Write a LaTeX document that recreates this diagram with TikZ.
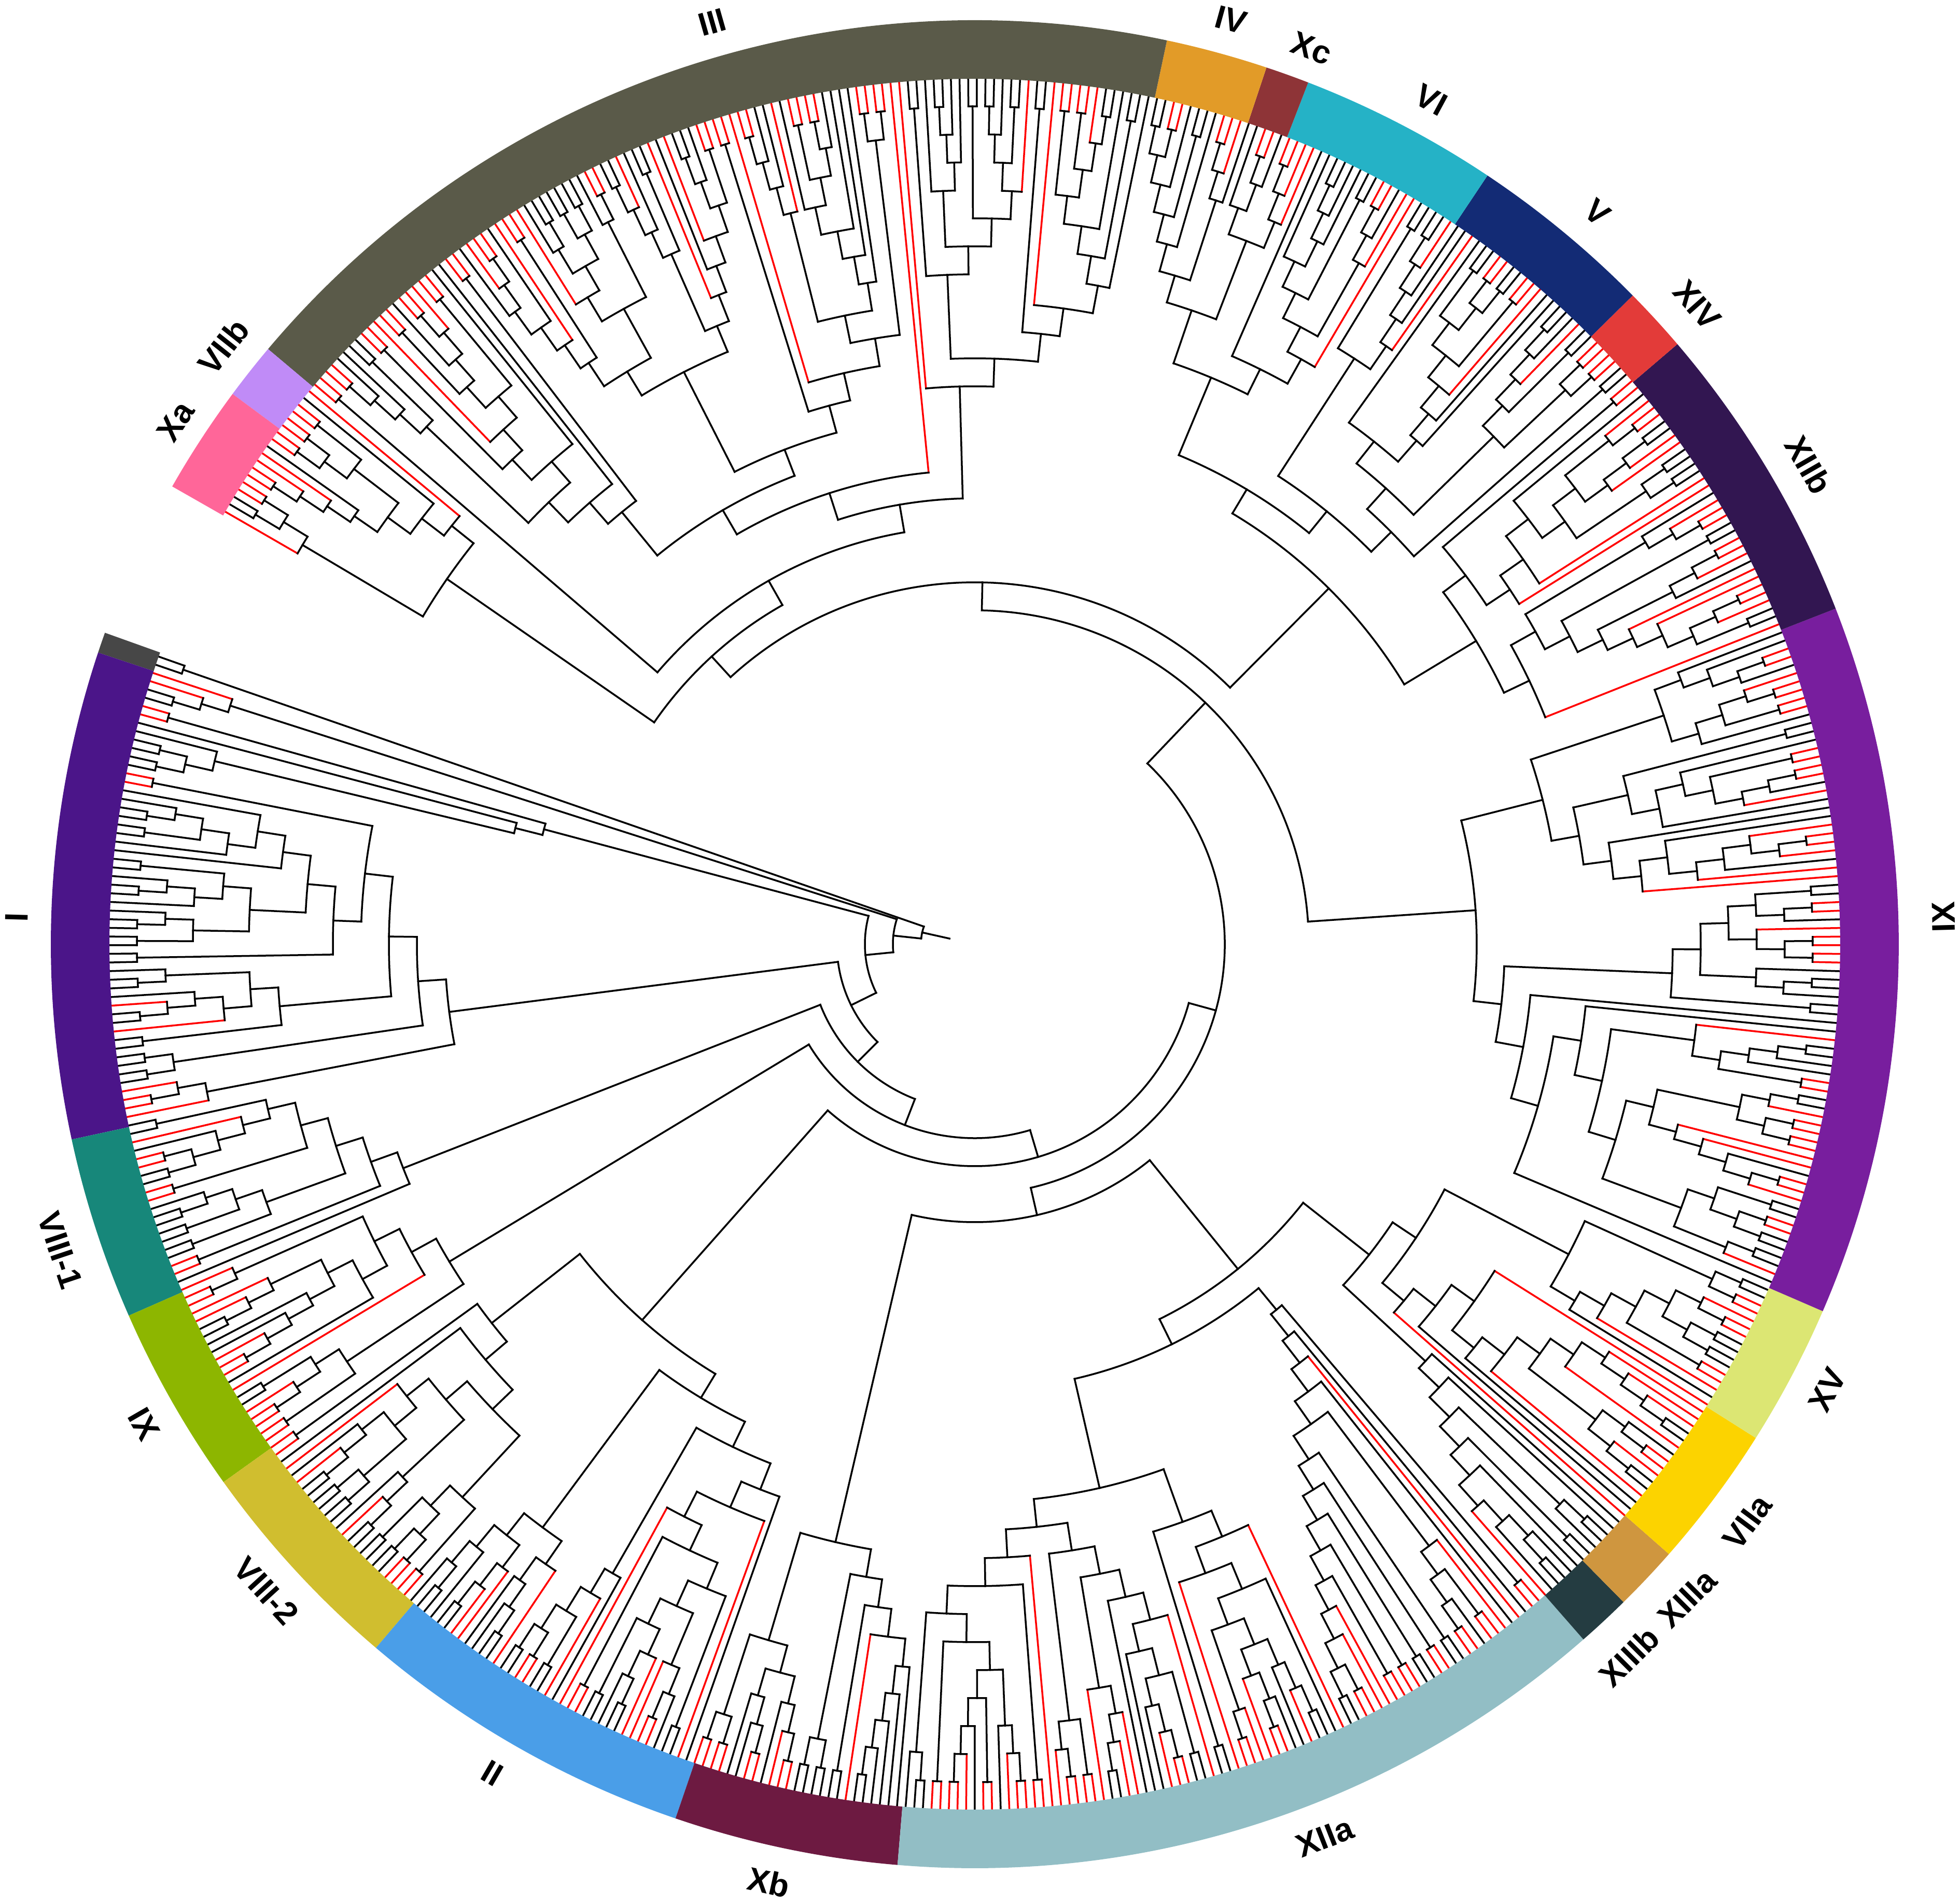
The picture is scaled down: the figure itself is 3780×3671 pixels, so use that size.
\documentclass[tikz,border=0pt]{standalone}
\usepackage{fontspec}
\setmainfont{Liberation Sans}
\definecolor{cGray}{HTML}{474747}
\definecolor{cI}{HTML}{4B1589}
\definecolor{cVIIIa}{HTML}{17877A}
\definecolor{cIXl}{HTML}{8DB600}
\definecolor{cVIIIb}{HTML}{D0BE2F}
\definecolor{cII}{HTML}{4A9EE8}
\definecolor{cXb}{HTML}{6D1A41}
\definecolor{cXIIa}{HTML}{92BEC5}
\definecolor{cXIIIb}{HTML}{243C41}
\definecolor{cXIIIa}{HTML}{CF963F}
\definecolor{cVIIa}{HTML}{FCD300}
\definecolor{cXV}{HTML}{DCE673}
\definecolor{cIXr}{HTML}{781E9E}
\definecolor{cXIIb}{HTML}{321651}
\definecolor{cXIV}{HTML}{E33B39}
\definecolor{cV}{HTML}{132B75}
\definecolor{cVI}{HTML}{25B2C6}
\definecolor{cXc}{HTML}{8E3437}
\definecolor{cIV}{HTML}{E29B28}
\definecolor{cIII}{HTML}{5A5A49}
\definecolor{cVIIb}{HTML}{C08BF7}
\definecolor{cXa}{HTML}{FF6699}
\definecolor{tipred}{HTML}{FF0000}
\begin{document}
\begin{tikzpicture}[x=1pt,y=1pt,
  edge/.style={line width=3.5pt,line cap=rect},
  lbl/.style={font=\fontsize{63}{63}\selectfont\bfseries,inner sep=0pt,anchor=center}]
\useasboundingbox (-1880,-1850) rectangle (1900,1821);
\pgfmathsetseed{4711}
\def\Rt{1670}\def\St{54}\def\Ts{160.3}\def\Dt{0.57283}
\def\pone{0.45}\def\pch{0.2}\def\pscale{14}\def\pdir{0.5}
% ---------- red probability per leaf ----------
\def\SetPred#1{%
  \def\pred{0}%
  \ifnum#1>1 \def\pred{1}\fi
  \ifnum#1>3 \def\pred{0}\fi
  \ifnum#1>5 \def\pred{1}\fi
  \ifnum#1>7 \def\pred{0}\fi
  \ifnum#1>13 \def\pred{0.03}\fi
  \ifnum#1>38 \def\pred{0.45}\fi
  \ifnum#1>54 \def\pred{0.6}\fi
  \ifnum#1>95 \def\pred{0.55}\fi
  \ifnum#1>157 \def\pred{0.45}\fi
  \ifnum#1>182 \def\pred{0.75}\fi
  \ifnum#1>262 \def\pred{0.5}\fi
  \ifnum#1>307 \def\pred{0.55}\fi
  \ifnum#1>385 \def\pred{0.6}\fi
  \ifnum#1>419 \def\pred{0.5}\fi
  \ifnum#1>484 \def\pred{0.55}\fi
  \ifnum#1>592 \def\pred{0.65}\fi}
\def\Leaf#1{%
  \pgfmathsetmacro\LfA{\Ts+(#1+0.5)*\Dt}%
  \SetPred{#1}%
  \pgfmathsetmacro\LfU{rnd}%
  \ifdim\LfU pt<\pred pt\relax\gdef\Rc{tipred}\else\gdef\Rc{black}\fi
  \xdef\Ra{\LfA}\gdef\Rh{0}\gdef\Rl{1}}
% ---------- split rule ----------
\def\Split#1#2{%
  \pgfmathtruncatemacro\Snn{#2-#1+1}%
  \ifnum\Snn=2 \def\Skk{#1}\else
    \pgfmathsetmacro\Sp{min(1,\pscale/\Snn)}%
    \pgfmathsetmacro\Sa{\pone*\Sp}%
    \pgfmathsetmacro\Sb{\Sa+\pch*\Sp}%
    \pgfmathsetmacro\Suu{rnd}%
    \pgfmathsetmacro\Svv{rnd}%
    \ifdim\Suu pt<\Sa pt\relax
      \ifdim\Svv pt<\pdir pt\relax \def\Skk{#1}\else\pgfmathtruncatemacro\Skk{#2-1}\fi
    \else\ifdim\Suu pt<\Sb pt\relax
      \ifnum\Snn>3 \ifdim\Svv pt<\pdir pt\relax\pgfmathtruncatemacro\Skk{#1+1}\else\pgfmathtruncatemacro\Skk{#2-2}\fi
      \else\def\Skk{#1}\fi
    \else
      \pgfmathtruncatemacro\Skk{#1+max(0,min(\Snn-2,floor(\Snn*(0.22+0.56*\Svv))-1))}%
    \fi\fi
  \fi}
% ---------- node drawing ----------
\def\JDraw{%
  \pgfmathsetmacro\Jr{\Rt-\St*\Jhh}%
  \pgfmathsetmacro\Jrlc{\Rt-\St*\Jlh}%
  \pgfmathsetmacro\Jrrc{\Rt-\St*\Jrh}%
  \ifnum\Jll=1 \ifnum\Jrl=1 \let\Jrc\Jlc\fi\fi
  \draw[edge,color=\Jlc] (\Jla:\Jrlc) -- (\Jla:\Jr);
  \draw[edge,color=\Jrc] (\Jra:\Jrrc) -- (\Jra:\Jr);
  \draw[edge] (\Jla:\Jr) arc[start angle=\Jla,end angle=\Jra,radius=\Jr pt];
  \pgfmathsetmacro\Jaa{(\Jla+\Jra)/2}%
  \xdef\Ra{\Jaa}\xdef\Rh{\Jhh}\gdef\Rl{0}\gdef\Rc{black}}
\def\JH#1#2#3{%
  \begingroup
  #2\let\Jla\Ra\let\Jlh\Rh\let\Jll\Rl\let\Jlc\Rc
  #3\let\Jra\Ra\let\Jrh\Rh\let\Jrl\Rl\let\Jrc\Rc
  \pgfmathtruncatemacro\Jhh{max(#1,max(\Jlh,\Jrh)+1)}%
  \JDraw
  \endgroup}
\def\Gen#1#2{\edef\GenTmp{\noexpand\GenX{#1}{#2}}\GenTmp}
\def\GenX#1#2{%
  \ifnum#1=#2\relax\Leaf{#1}%
  \else
    \Split{#1}{#2}%
    \pgfmathtruncatemacro\Skp{\Skk+1}%
    \edef\GenTmp{\noexpand\JH{0}{\noexpand\Gen{#1}{\Skk}}{\noexpand\Gen{\Skp}{#2}}}%
    \GenTmp
  \fi}
\def\GenP#1#2#3#4#5#6{\begingroup\def\pone{#1}\def\pch{#2}\def\pscale{#3}\def\pdir{#4}%
  \Gen{#5}{#6}\endgroup}
% ---------- the tree ----------
\JH{29}{\Gen{0}{1}}{%
 \JH{28}{\JH{0}{\Leaf{2}}{\JH{0}{\Leaf{3}}{\Gen{4}{5}}}}{%
  \JH{27}{\JH{15}{\Gen{6}{7}}{\JH{14}{\Leaf{8}}{\JH{0}{\Leaf{9}}{\JH{0}{\Gen{10}{11}}{\Gen{12}{13}}}}}}{%
   \JH{26}{\JH{0}{\JH{0}{\Gen{14}{46}}{\Gen{47}{50}}}{\Gen{51}{54}}}{%
    \JH{25}{\Gen{55}{74}}{%
     \JH{24}{\Gen{75}{95}}{%
      \JH{23}{\JH{11}{\Gen{96}{119}}{\Gen{120}{157}}}{%
       \JH{22}{%
         \JH{21}{\Gen{158}{182}}{\JH{0}{\JH{0}{\Gen{183}{235}}{\GenP{0.5}{0.3}{1000}{0.15}{236}{262}}}{\JH{0}{\Gen{263}{275}}{\Gen{276}{307}}}}%
        }{%
         \JH{19}{\Gen{308}{385}}{%
           \JH{18}{\JH{0}{\Gen{386}{419}}{\Gen{420}{484}}}{\JH{0}{\Gen{485}{592}}{\Gen{593}{610}}}}%
        }}}}}}}}
\pgfmathsetmacro\RootA{\Rt-\St*\Rh}
\pgfmathsetmacro\RootB{\RootA-\St}
\coordinate (rootend) at (\Ra:\RootB);
\coordinate (rootnode) at (\Ra:\RootA);
\draw[edge] (rootend) -- (rootnode);
% ---------- ring ----------
\foreach \a/\b/\c in {160.3/161.6/cGray,161.6/192.2/cI,192.2/203.7/cVIIIa,203.7/215.6/cIXl,
  215.6/229.6/cVIIIb,229.6/251.1/cII,251.1/265.2/cXb,265.2/311.2/cXIIa,311.2/314.6/cXIIIb,
  314.6/318.7/cXIIIa,318.7/327.7/cVIIa,327.7/336.6/cXV,336.6/381.3/cIXr,381.3/400.5/cXIIb,
  400.5/404.6/cXIV,404.6/416.3/cV,416.3/428.85/cVI,428.85/431.6/cXc,431.6/438.0/cIV,
  438.0/499.9/cIII,499.9/503.45/cVIIb,503.45/510.3/cXa}{
  \fill[fill=\c] (\a:1669) arc[start angle=\a,end angle=\b,radius=1669pt] -- (\b:1782)
     arc[start angle=\b,end angle=\a,radius=1782pt] -- cycle;
}
% ---------- labels ----------
\foreach \t/\r/\rot/\txt [count=\i] in {178.4/1849/88.4/I,198.5/1860/288.5/VIII-1,210/1850/300/IX,
  222.4/1850/312.4/VIII-2,239.8/1850/329.8/II,257.6/1852/347.6/Xb,291.4/1850/21.4/XIIa,
  323.2/1861/53.2/VIIa,332.4/1855/62.4/XV,
  1.6/1869/91.6/IX,29.9/1855/-60.1/XIIb,41.5/1860/-48.5/XIV,49.6/1853/-40.4/V,
  61.6/1851/-28.4/VI,69.4/1846/-20.6/Xc,74.5/1850/-15.5/IV,105.9/1849/15.9/III,
  141.5/1852/51.5/VIIb,146.8/1842/56.8/Xa}{
  \node[lbl,rotate=\rot] (lab\i) at (\t:\r) {\txt};
}
\node[lbl,rotate=45] (labXIIIb) at (1262,-1374) {XIIIb};
\node[lbl,rotate=45] (labXIIIa) at (1374,-1262) {XIIIa};
\end{tikzpicture}
\end{document}
